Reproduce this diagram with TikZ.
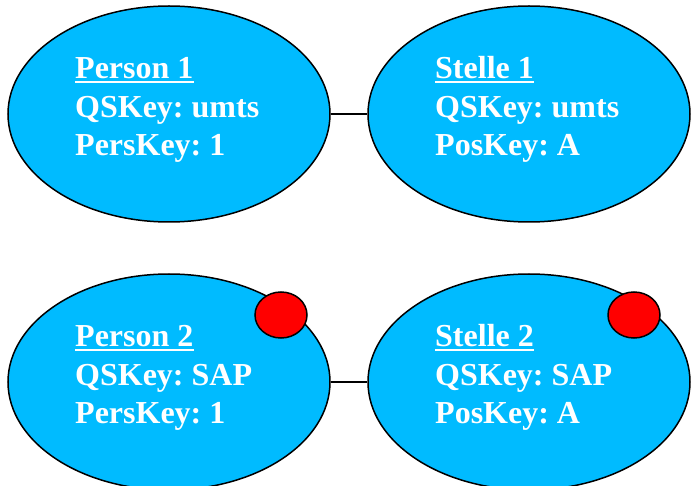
\documentclass[tikz,border=0pt]{standalone}
\usepackage{fontspec}
\setmainfont{Liberation Serif}
\usetikzlibrary{shapes.geometric}
\definecolor{skyfill}{RGB}{0,187,255}
\tikzset{
  entity/.style={ellipse, draw=black, line width=1.5pt, fill=skyfill, minimum width=322pt, minimum height=216pt, inner sep=0pt},
  marker/.style={ellipse, draw=black, line width=1.5pt, fill=red, minimum width=52pt, minimum height=46pt, inner sep=0pt},
  txt/.style={anchor=base west, inner sep=0pt, text=white, font=\fontsize{32}{38}\selectfont\bfseries\frenchspacing},
  uline/.style={draw=white, line width=2pt},
  link/.style={draw=black, line width=1.5pt}
}
\begin{document}
\begin{tikzpicture}[x=1pt,y=-1pt]
\useasboundingbox (0,0) rectangle (694,486);
\node[entity] (p1) at (169,114) {};
\node[entity] (s1) at (529,114) {};
\node[entity] (p2) at (169,382) {};
\node[entity] (s2) at (529,382) {};
\draw[link] (p1.east) -- (s1.west);
\draw[link] (p2.east) -- (s2.west);
\node[marker] (m1) at (281,315) {};
\node[marker] (m2) at (634,315) {};
% texts
\node[txt] (p1a) at (75,79) {Person 1};
\node[txt] (p1b) at (75,118) {QSKey: umts};
\node[txt] (p1c) at (75,156) {PersKey: 1};
\node[txt] (s1a) at (435,79) {Stelle 1};
\node[txt] (s1b) at (435,118) {QSKey: umts};
\node[txt] (s1c) at (435,156) {PosKey: A};
\node[txt] (p2a) at (75,347) {Person 2};
\node[txt] (p2b) at (75,386) {QSKey: SAP};
\node[txt] (p2c) at (75,424) {PersKey: 1};
\node[txt] (s2a) at (435,347) {Stelle 2};
\node[txt] (s2b) at (435,386) {QSKey: SAP};
\node[txt] (s2c) at (435,424) {PosKey: A};
\foreach \n in {p1a,s1a,p2a,s2a}{
  \draw[uline] ([yshift=-3pt]\n.base west) -- ([yshift=-3pt]\n.base east);
}
\end{tikzpicture}
\end{document}
